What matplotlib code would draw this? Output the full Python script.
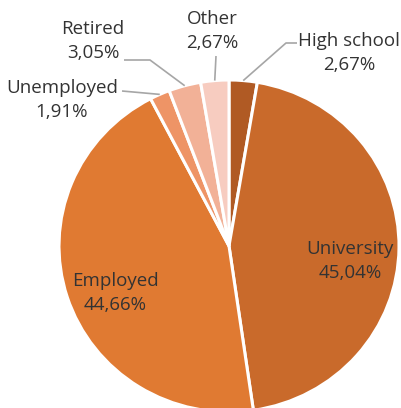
import numpy as np
import matplotlib.pyplot as plt

# occupation / education shares, clockwise from 12 o'clock
categorias = ["High school", "University", "Employed", "Unemployed", "Retired", "Other"]
porcentajes = [2.67, 45.04, 44.66, 1.91, 3.05, 2.67]
colores = ["#B05A24", "#C96A2B", "#E07A32", "#EE9466", "#F2B197", "#F7CCC0"]

# pixel geometry of the pie inside the 402x408 canvas
ANCHO, ALTO = 402, 408
CX, CY = 229, 246
RX, RY = 170, 166


def px(x, y):
    """Convierte coordenadas en pixeles (origen arriba-izquierda) a datos."""
    return (x - CX) / RX, (CY - y) / RY


# label centres and leader-line elbows (pixels)
pos_etiquetas = {
    "High school": (349, 53),
    "Other": (212, 31),
    "Retired": (93, 41),
    "Unemployed": (62, 100),
    "University": (350, 261),
    "Employed": (115, 293),
}
codos = {
    "High school": [(297, 43), (286, 43)],
    "Other": [(216, 56)],
    "Retired": [(124, 60), (150, 60)],
    "Unemployed": [(122, 91)],
}

fig = plt.figure(figsize=(ANCHO / 100, ALTO / 100), dpi=100)
ax = fig.add_axes([0, 0, 1, 1])

wedges, _ = ax.pie(
    porcentajes,
    colors=colores,
    startangle=90,
    counterclock=False,
    radius=1,
    wedgeprops={"edgecolor": "white", "linewidth": 2.2},
)

for w, cat, val in zip(wedges, categorias, porcentajes):
    texto = f"{cat}\n{val:.2f}%".replace(".", ",")
    tx, ty = px(*pos_etiquetas[cat])
    ax.text(tx, ty, texto, ha="center", va="center", fontsize=13.5,
            family="Open Sans", color="#333333", linespacing=1.4)
    if cat in codos:
        # linea guia hasta el punto medio del arco
        ang = np.deg2rad((w.theta1 + w.theta2) / 2)
        puntos = [px(*p) for p in codos[cat]] + [(np.cos(ang), np.sin(ang))]
        xs, ys = zip(*puntos)
        ax.plot(xs, ys, color="#A6A6A6", linewidth=1.2, solid_capstyle="butt")

x0, y0 = px(0, 0)
x1, y1 = px(ANCHO, ALTO)
ax.set_xlim(x0, x1)
ax.set_ylim(y1, y0)
ax.set_aspect("auto")
ax.axis("off")

fig.savefig("out.png", dpi=100)
